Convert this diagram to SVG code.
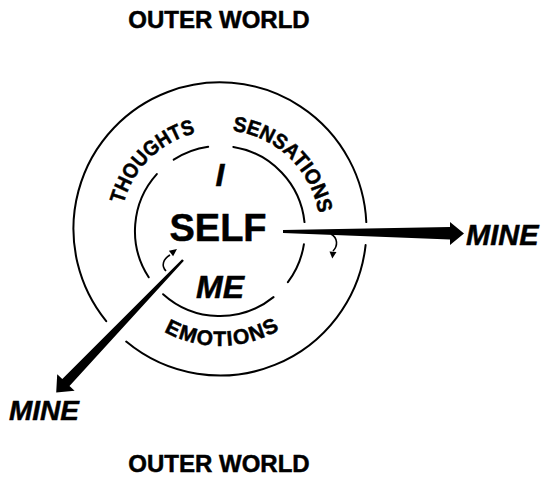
<svg xmlns="http://www.w3.org/2000/svg" xmlns:xlink="http://www.w3.org/1999/xlink" width="543" height="477" viewBox="0 0 543 477">
<defs>
<style>
.ln{fill:none;stroke:#000;stroke-width:2;stroke-linecap:round}
.t{font-family:"Liberation Sans",Arial,Helvetica,sans-serif;font-weight:bold;fill:#000;stroke:#000;stroke-width:0.5}
.i{font-style:italic}
.arc{font-size:21px}
</style>
<path id="cw" d="M 120 230 A 100 100 0 1 1 320 230 A 100 100 0 1 1 120 230"/>
<path id="ccw" d="M 104 230 A 116 116 0 0 0 336 230"/>
</defs>
<rect width="543" height="477" fill="#fff"/>
<g id="outer-world-top"><text class="t" x="219" y="28" font-size="24" text-anchor="middle">OUTER WORLD</text></g>
<g id="outer-world-bottom"><text class="t" x="219" y="472" font-size="24" text-anchor="middle">OUTER WORLD</text></g>
<g id="outer-circle">
<path class="ln" d="M 365.6 245.1 A 146.5 146.5 0 0 1 126.2 341.6"/>
<path class="ln" d="M 106.2 321.2 A 146.5 146.5 0 1 1 366.3 222.1"/>
</g>
<g id="inner-circle">
<path class="ln" d="M 173.7 159.7 A 85 85 0 0 1 208.2 146.8"/>
<path class="ln" d="M 233.3 147 A 85 85 0 0 1 304.5 222.1"/>
<path class="ln" d="M 303.9 244.3 A 85 85 0 0 1 287.9 282.2"/>
<path class="ln" d="M 273.5 297.1 A 85 85 0 0 1 163.1 294.2"/>
<path class="ln" d="M 148.7 277.3 A 85 85 0 0 1 156.8 174.1"/>
</g>
<g id="thoughts"><text class="t arc"><textPath xlink:href="#cw" startOffset="79" text-anchor="middle" textLength="106" lengthAdjust="spacingAndGlyphs">THOUGHTS</textPath></text></g>
<g id="sensations"><text class="t arc"><textPath xlink:href="#cw" startOffset="233" text-anchor="middle" textLength="128" lengthAdjust="spacingAndGlyphs">SENSATIONS</textPath></text></g>
<g id="emotions"><text class="t arc"><textPath xlink:href="#ccw" startOffset="184" text-anchor="middle" textLength="121" lengthAdjust="spacing">EMOTIONS</textPath></text></g>
<g id="i"><text class="t i" x="220" y="186" font-size="32" text-anchor="middle">I</text></g>
<g id="self"><text class="t" x="218" y="241" font-size="38" text-anchor="middle">SELF</text></g>
<g id="me"><text class="t i" x="220" y="298" font-size="32" text-anchor="middle">ME</text></g>
<g id="mine-right"><text class="t i" x="466" y="245" font-size="29">MINE</text></g>
<g id="mine-left"><text class="t i" x="9" y="420" font-size="28">MINE</text></g>
<g id="connectors">
<polygon points="283,230 450,227 450,222 464,233.5 450,245 450,239.5 283,233" fill="#000"/>
<polygon points="182.1,259.2 62.3,379 57.2,374.2 56.2,392.6 74.6,390.8 69.5,386 183.9,260.8" fill="#000"/>
<path d="M 331 234 C 338 238, 338 246, 333 251" fill="none" stroke="#000" stroke-width="1.6"/>
<polygon points="329.5,251.5 336.5,252 332.3,258.5" fill="#000"/>
<path d="M 166 271 C 161 266, 163 259, 170 255" fill="none" stroke="#000" stroke-width="1.6"/>
<polygon points="177,249 173.1,256.3 168.9,250.7" fill="#000"/>
</g>
</svg>
